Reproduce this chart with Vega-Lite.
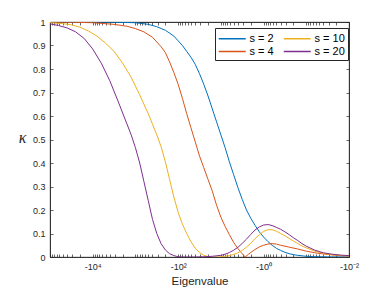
{
  "$schema": "https://vega.github.io/schema/vega-lite/v6.json",
  "width": 299,
  "height": 235,
  "autosize": {"type": "none"},
  "padding": {"left": 50, "top": 22, "right": 37, "bottom": 33},
  "background": "white",
  "view": {"stroke": "#262626", "strokeWidth": 0.8},
  "config": {
    "font": "Liberation Sans",
    "axis": {
      "grid": false,
      "domainColor": "#262626",
      "domainWidth": 0.8,
      "tickColor": "#262626",
      "tickWidth": 0.7,
      "labelColor": "#262626",
      "labelFontSize": 9,
      "titleColor": "#262626",
      "titleFontWeight": "normal"
    }
  },
  "data": {
    "values": [
      {"s": 2, "absEig": 100000, "kappa": 1},
      {"s": 2, "absEig": 10000, "kappa": 1},
      {"s": 2, "absEig": 3162, "kappa": 0.999},
      {"s": 2, "absEig": 1000, "kappa": 0.997},
      {"s": 2, "absEig": 501.2, "kappa": 0.99},
      {"s": 2, "absEig": 316.2, "kappa": 0.98},
      {"s": 2, "absEig": 199.5, "kappa": 0.965},
      {"s": 2, "absEig": 125.9, "kappa": 0.94},
      {"s": 2, "absEig": 100, "kappa": 0.92},
      {"s": 2, "absEig": 79.43, "kappa": 0.9},
      {"s": 2, "absEig": 63.1, "kappa": 0.875},
      {"s": 2, "absEig": 50.12, "kappa": 0.85},
      {"s": 2, "absEig": 39.81, "kappa": 0.82},
      {"s": 2, "absEig": 31.62, "kappa": 0.78},
      {"s": 2, "absEig": 25.12, "kappa": 0.735},
      {"s": 2, "absEig": 19.95, "kappa": 0.685},
      {"s": 2, "absEig": 15.85, "kappa": 0.63},
      {"s": 2, "absEig": 12.59, "kappa": 0.575},
      {"s": 2, "absEig": 10, "kappa": 0.52},
      {"s": 2, "absEig": 7.943, "kappa": 0.465},
      {"s": 2, "absEig": 6.31, "kappa": 0.405},
      {"s": 2, "absEig": 5.012, "kappa": 0.35},
      {"s": 2, "absEig": 3.981, "kappa": 0.295},
      {"s": 2, "absEig": 3.162, "kappa": 0.245},
      {"s": 2, "absEig": 2.512, "kappa": 0.2},
      {"s": 2, "absEig": 1.995, "kappa": 0.165},
      {"s": 2, "absEig": 1.585, "kappa": 0.135},
      {"s": 2, "absEig": 1.259, "kappa": 0.107},
      {"s": 2, "absEig": 1, "kappa": 0.085},
      {"s": 2, "absEig": 0.7943, "kappa": 0.066},
      {"s": 2, "absEig": 0.631, "kappa": 0.05},
      {"s": 2, "absEig": 0.5012, "kappa": 0.037},
      {"s": 2, "absEig": 0.3981, "kappa": 0.028},
      {"s": 2, "absEig": 0.3162, "kappa": 0.02},
      {"s": 2, "absEig": 0.2512, "kappa": 0.014},
      {"s": 2, "absEig": 0.1995, "kappa": 0.01},
      {"s": 2, "absEig": 0.1585, "kappa": 0.007},
      {"s": 2, "absEig": 0.1, "kappa": 0.003},
      {"s": 2, "absEig": 0.0631, "kappa": 0.0015},
      {"s": 2, "absEig": 0.0316, "kappa": 0.0005},
      {"s": 2, "absEig": 0.01, "kappa": 0.0001},

      {"s": 4, "absEig": 100000, "kappa": 1},
      {"s": 4, "absEig": 31623, "kappa": 0.999},
      {"s": 4, "absEig": 10000, "kappa": 0.997},
      {"s": 4, "absEig": 3162, "kappa": 0.99},
      {"s": 4, "absEig": 1585, "kappa": 0.982},
      {"s": 4, "absEig": 1000, "kappa": 0.972},
      {"s": 4, "absEig": 631, "kappa": 0.958},
      {"s": 4, "absEig": 398.1, "kappa": 0.935},
      {"s": 4, "absEig": 251.2, "kappa": 0.895},
      {"s": 4, "absEig": 199.5, "kappa": 0.87},
      {"s": 4, "absEig": 158.5, "kappa": 0.83},
      {"s": 4, "absEig": 125.9, "kappa": 0.785},
      {"s": 4, "absEig": 100, "kappa": 0.735},
      {"s": 4, "absEig": 79.43, "kappa": 0.675},
      {"s": 4, "absEig": 63.1, "kappa": 0.61},
      {"s": 4, "absEig": 50.12, "kappa": 0.55},
      {"s": 4, "absEig": 39.81, "kappa": 0.49},
      {"s": 4, "absEig": 31.62, "kappa": 0.43},
      {"s": 4, "absEig": 25.12, "kappa": 0.38},
      {"s": 4, "absEig": 19.95, "kappa": 0.33},
      {"s": 4, "absEig": 15.85, "kappa": 0.28},
      {"s": 4, "absEig": 12.59, "kappa": 0.22},
      {"s": 4, "absEig": 10, "kappa": 0.17},
      {"s": 4, "absEig": 7.943, "kappa": 0.13},
      {"s": 4, "absEig": 6.31, "kappa": 0.095},
      {"s": 4, "absEig": 5.012, "kappa": 0.062},
      {"s": 4, "absEig": 3.981, "kappa": 0.036},
      {"s": 4, "absEig": 3.162, "kappa": 0.014},
      {"s": 4, "absEig": 2.692, "kappa": 0},
      {"s": 4, "absEig": 2.239, "kappa": 0.012},
      {"s": 4, "absEig": 1.995, "kappa": 0.019},
      {"s": 4, "absEig": 1.585, "kappa": 0.032},
      {"s": 4, "absEig": 1.259, "kappa": 0.043},
      {"s": 4, "absEig": 1, "kappa": 0.05},
      {"s": 4, "absEig": 0.7943, "kappa": 0.055},
      {"s": 4, "absEig": 0.631, "kappa": 0.057},
      {"s": 4, "absEig": 0.5012, "kappa": 0.055},
      {"s": 4, "absEig": 0.3981, "kappa": 0.05},
      {"s": 4, "absEig": 0.2512, "kappa": 0.042},
      {"s": 4, "absEig": 0.1585, "kappa": 0.034},
      {"s": 4, "absEig": 0.1, "kappa": 0.025},
      {"s": 4, "absEig": 0.0631, "kappa": 0.018},
      {"s": 4, "absEig": 0.0398, "kappa": 0.013},
      {"s": 4, "absEig": 0.0251, "kappa": 0.009},
      {"s": 4, "absEig": 0.0158, "kappa": 0.006},
      {"s": 4, "absEig": 0.01, "kappa": 0.004},

      {"s": 10, "absEig": 100000, "kappa": 0.997},
      {"s": 10, "absEig": 50119, "kappa": 0.993},
      {"s": 10, "absEig": 31623, "kappa": 0.988},
      {"s": 10, "absEig": 19953, "kappa": 0.978},
      {"s": 10, "absEig": 12589, "kappa": 0.962},
      {"s": 10, "absEig": 7943, "kappa": 0.94},
      {"s": 10, "absEig": 5012, "kappa": 0.91},
      {"s": 10, "absEig": 3162, "kappa": 0.875},
      {"s": 10, "absEig": 1995, "kappa": 0.825},
      {"s": 10, "absEig": 1259, "kappa": 0.765},
      {"s": 10, "absEig": 794.3, "kappa": 0.69},
      {"s": 10, "absEig": 501.2, "kappa": 0.61},
      {"s": 10, "absEig": 398.1, "kappa": 0.565},
      {"s": 10, "absEig": 316.2, "kappa": 0.52},
      {"s": 10, "absEig": 251.2, "kappa": 0.47},
      {"s": 10, "absEig": 199.5, "kappa": 0.405},
      {"s": 10, "absEig": 158.5, "kappa": 0.33},
      {"s": 10, "absEig": 125.9, "kappa": 0.255},
      {"s": 10, "absEig": 100, "kappa": 0.19},
      {"s": 10, "absEig": 79.43, "kappa": 0.14},
      {"s": 10, "absEig": 63.1, "kappa": 0.1},
      {"s": 10, "absEig": 50.12, "kappa": 0.065},
      {"s": 10, "absEig": 39.81, "kappa": 0.038},
      {"s": 10, "absEig": 31.62, "kappa": 0.019},
      {"s": 10, "absEig": 25.12, "kappa": 0.007},
      {"s": 10, "absEig": 19.95, "kappa": 0.002},
      {"s": 10, "absEig": 15.85, "kappa": 0},
      {"s": 10, "absEig": 12.59, "kappa": 0},
      {"s": 10, "absEig": 10, "kappa": 0.001},
      {"s": 10, "absEig": 7.943, "kappa": 0.003},
      {"s": 10, "absEig": 6.31, "kappa": 0.006},
      {"s": 10, "absEig": 5.012, "kappa": 0.011},
      {"s": 10, "absEig": 3.981, "kappa": 0.018},
      {"s": 10, "absEig": 3.162, "kappa": 0.028},
      {"s": 10, "absEig": 2.512, "kappa": 0.042},
      {"s": 10, "absEig": 1.995, "kappa": 0.058},
      {"s": 10, "absEig": 1.585, "kappa": 0.078},
      {"s": 10, "absEig": 1.259, "kappa": 0.095},
      {"s": 10, "absEig": 1, "kappa": 0.109},
      {"s": 10, "absEig": 0.7943, "kappa": 0.116},
      {"s": 10, "absEig": 0.631, "kappa": 0.116},
      {"s": 10, "absEig": 0.5012, "kappa": 0.11},
      {"s": 10, "absEig": 0.3981, "kappa": 0.1},
      {"s": 10, "absEig": 0.3162, "kappa": 0.09},
      {"s": 10, "absEig": 0.2512, "kappa": 0.079},
      {"s": 10, "absEig": 0.1995, "kappa": 0.068},
      {"s": 10, "absEig": 0.1585, "kappa": 0.057},
      {"s": 10, "absEig": 0.1259, "kappa": 0.047},
      {"s": 10, "absEig": 0.1, "kappa": 0.039},
      {"s": 10, "absEig": 0.0631, "kappa": 0.025},
      {"s": 10, "absEig": 0.0398, "kappa": 0.016},
      {"s": 10, "absEig": 0.0251, "kappa": 0.01},
      {"s": 10, "absEig": 0.0158, "kappa": 0.007},
      {"s": 10, "absEig": 0.01, "kappa": 0.005},

      {"s": 20, "absEig": 100000, "kappa": 0.992},
      {"s": 20, "absEig": 63096, "kappa": 0.985},
      {"s": 20, "absEig": 39811, "kappa": 0.975},
      {"s": 20, "absEig": 25119, "kappa": 0.958},
      {"s": 20, "absEig": 15849, "kappa": 0.93},
      {"s": 20, "absEig": 10000, "kappa": 0.885},
      {"s": 20, "absEig": 6310, "kappa": 0.825},
      {"s": 20, "absEig": 3981, "kappa": 0.75},
      {"s": 20, "absEig": 2512, "kappa": 0.66},
      {"s": 20, "absEig": 1995, "kappa": 0.613},
      {"s": 20, "absEig": 1585, "kappa": 0.567},
      {"s": 20, "absEig": 1259, "kappa": 0.52},
      {"s": 20, "absEig": 1000, "kappa": 0.465},
      {"s": 20, "absEig": 794.3, "kappa": 0.4},
      {"s": 20, "absEig": 631, "kappa": 0.32},
      {"s": 20, "absEig": 501.2, "kappa": 0.24},
      {"s": 20, "absEig": 398.1, "kappa": 0.16},
      {"s": 20, "absEig": 316.2, "kappa": 0.1},
      {"s": 20, "absEig": 251.2, "kappa": 0.057},
      {"s": 20, "absEig": 199.5, "kappa": 0.03},
      {"s": 20, "absEig": 158.5, "kappa": 0.014},
      {"s": 20, "absEig": 125.9, "kappa": 0.006},
      {"s": 20, "absEig": 100, "kappa": 0.001},
      {"s": 20, "absEig": 79.43, "kappa": 0},
      {"s": 20, "absEig": 39.81, "kappa": 0},
      {"s": 20, "absEig": 25.12, "kappa": 0.001},
      {"s": 20, "absEig": 15.85, "kappa": 0.003},
      {"s": 20, "absEig": 10, "kappa": 0.007},
      {"s": 20, "absEig": 7.943, "kappa": 0.012},
      {"s": 20, "absEig": 6.31, "kappa": 0.019},
      {"s": 20, "absEig": 5.012, "kappa": 0.029},
      {"s": 20, "absEig": 3.981, "kappa": 0.041},
      {"s": 20, "absEig": 3.162, "kappa": 0.058},
      {"s": 20, "absEig": 2.512, "kappa": 0.076},
      {"s": 20, "absEig": 1.995, "kappa": 0.096},
      {"s": 20, "absEig": 1.585, "kappa": 0.115},
      {"s": 20, "absEig": 1.259, "kappa": 0.128},
      {"s": 20, "absEig": 1, "kappa": 0.136},
      {"s": 20, "absEig": 0.7943, "kappa": 0.138},
      {"s": 20, "absEig": 0.631, "kappa": 0.134},
      {"s": 20, "absEig": 0.5012, "kappa": 0.126},
      {"s": 20, "absEig": 0.3981, "kappa": 0.118},
      {"s": 20, "absEig": 0.3162, "kappa": 0.107},
      {"s": 20, "absEig": 0.2512, "kappa": 0.095},
      {"s": 20, "absEig": 0.1995, "kappa": 0.082},
      {"s": 20, "absEig": 0.1585, "kappa": 0.07},
      {"s": 20, "absEig": 0.1259, "kappa": 0.057},
      {"s": 20, "absEig": 0.1, "kappa": 0.046},
      {"s": 20, "absEig": 0.0631, "kappa": 0.029},
      {"s": 20, "absEig": 0.0398, "kappa": 0.018},
      {"s": 20, "absEig": 0.0251, "kappa": 0.012},
      {"s": 20, "absEig": 0.0158, "kappa": 0.008},
      {"s": 20, "absEig": 0.01, "kappa": 0.006}
    ]
  },
  "layer": [
    {
      "mark": {"type": "line", "strokeWidth": 1, "clip": true},
      "encoding": {
        "x": {
          "field": "absEig",
          "type": "quantitative",
          "scale": {"type": "log", "domain": [0.01, 100000], "reverse": true},
          "axis": {
            "orient": "bottom",
            "values": [0.01,0.02,0.03,0.04,0.05,0.06,0.07,0.08,0.09,0.1,0.2,0.3,0.4,0.5,0.6,0.7,0.8,0.9,1,2,3,4,5,6,7,8,9,10,20,30,40,50,60,70,80,90,100,200,300,400,500,600,700,800,900,1000,2000,3000,4000,5000,6000,7000,8000,9000,10000,20000,30000,40000,50000,60000,70000,80000,90000,100000],
            "labelExpr": "datum.value == 10000 ? '-10⁴' : datum.value == 100 ? '-10²' : datum.value == 1 ? '-10⁰' : datum.value == 0.01 ? '-10⁻²' : ''",
            "labelOverlap": false,
            "labelFlush": false,
            "tickSize": -3,
            "labelPadding": 8,
            "title": "Eigenvalue",
            "titleFontSize": 11.5,
            "titleY": 27.5,
            "titleBaseline": "alphabetic"
          }
        },
        "y": {
          "field": "kappa",
          "type": "quantitative",
          "scale": {"domain": [0, 1]},
          "axis": {
            "orient": "left",
            "values": [0, 0.1, 0.2, 0.3, 0.4, 0.5, 0.6, 0.7, 0.8, 0.9, 1],
            "format": ".1~f",
            "tickSize": -3,
            "labelPadding": 8,
            "title": "κ",
            "titleAngle": 0,
            "titleFont": "Liberation Serif",
            "titleFontStyle": "italic",
            "titleFontSize": 16,
            "titleX": -28,
            "titleY": 115,
            "titleAlign": "center",
            "titleBaseline": "middle"
          }
        },
        "color": {
          "field": "s",
          "type": "nominal",
          "scale": {"domain": [2, 4, 10, 20], "range": ["#0072BD", "#D95319", "#EDB120", "#7E2F8E"]},
          "legend": {
            "orient": "none",
            "legendX": 165,
            "legendY": 6,
            "columns": 2,
            "direction": "vertical",
            "title": null,
            "symbolType": "M-1,0H3",
            "symbolSize": 182,
            "symbolStrokeWidth": 1.5,
            "labelFontSize": 11,
            "labelColor": "#000000",
            "labelOffset": 16.5,
            "labelExpr": "'s = ' + datum.label",
            "strokeColor": "#262626",
            "fillColor": "white",
            "padding": 3,
            "columnPadding": 6,
            "rowPadding": 0
          }
        }
      }
    },
    {
      "mark": {"type": "point", "opacity": 0},
      "encoding": {
        "x": {
          "field": "absEig",
          "type": "quantitative",
          "scale": {"type": "log", "domain": [0.01, 100000], "reverse": true},
          "axis": {
            "orient": "top",
            "values": [0.01,0.02,0.03,0.04,0.05,0.06,0.07,0.08,0.09,0.1,0.2,0.3,0.4,0.5,0.6,0.7,0.8,0.9,1,2,3,4,5,6,7,8,9,10,20,30,40,50,60,70,80,90,100,200,300,400,500,600,700,800,900,1000,2000,3000,4000,5000,6000,7000,8000,9000,10000,20000,30000,40000,50000,60000,70000,80000,90000,100000],
            "labels": false,
            "tickSize": -3,
            "title": null
          }
        },
        "y": {
          "field": "kappa",
          "type": "quantitative",
          "scale": {"domain": [0, 1]},
          "axis": {
            "orient": "right",
            "values": [0, 0.1, 0.2, 0.3, 0.4, 0.5, 0.6, 0.7, 0.8, 0.9, 1],
            "labels": false,
            "tickSize": -3,
            "title": null
          }
        }
      }
    }
  ],
  "resolve": {"axis": {"x": "independent", "y": "independent"}}
}
